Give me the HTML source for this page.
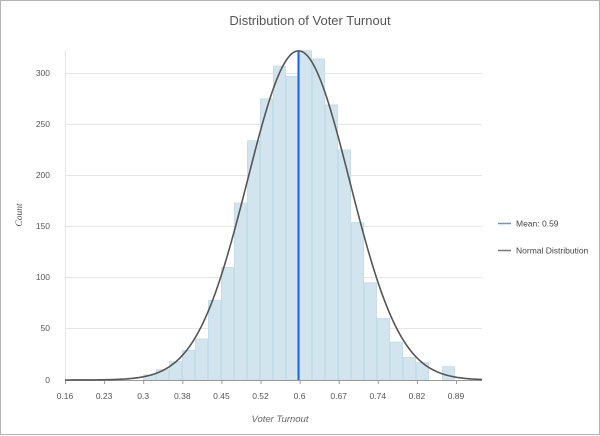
<!DOCTYPE html>
<html><head><meta charset="utf-8"><style>
html,body{margin:0;padding:0;background:#fff}
svg{display:block;font-family:"Liberation Sans",sans-serif}
</style></head><body>
<svg id="s" width="600" height="436" viewBox="0 0 600 436" xmlns="http://www.w3.org/2000/svg">
<rect x="0.5" y="0.5" width="599" height="434" fill="#fff" stroke="#b4b4b4"/>
<text x="310" y="25" text-anchor="middle" font-size="13" fill="#555">Distribution of Voter Turnout</text>
<g stroke="#e6e6e6" stroke-width="1">
<line x1="65" x2="482" y1="73.5" y2="73.5"/>
<line x1="65" x2="482" y1="124.5" y2="124.5"/>
<line x1="65" x2="482" y1="175.5" y2="175.5"/>
<line x1="65" x2="482" y1="226.5" y2="226.5"/>
<line x1="65" x2="482" y1="277.5" y2="277.5"/>
<line x1="65" x2="482" y1="328.5" y2="328.5"/>
</g>
<line x1="65.5" x2="65.5" y1="50" y2="380" stroke="#e6e6e6"/>
<g font-size="8.5" fill="#555" text-anchor="end">
<text x="50" y="76">300</text><text x="50" y="127">250</text><text x="50" y="178">200</text>
<text x="50" y="229">150</text><text x="50" y="280">100</text><text x="50" y="331">50</text><text x="50" y="383">0</text>
</g>
<text transform="translate(22,215) rotate(-90)" text-anchor="middle" font-size="9.5" font-style="italic" fill="#555" font-family="Liberation Serif,serif">Count</text>
<g id="bars" fill="#d2e5ef" stroke="#c4dde9" stroke-width="1"></g>
<line x1="65" x2="482" y1="380.5" y2="380.5" stroke="#999"/>
<g id="ticks" stroke="#999"></g>
<g id="tl" font-size="8.5" fill="#555" text-anchor="middle"></g>
<text x="280" y="422" text-anchor="middle" font-size="9.5" font-style="italic" fill="#666">Voter Turnout</text>
<path id="curve" fill="none" stroke="#555" stroke-width="1.6"/>
<line x1="298.5" x2="298.5" y1="51" y2="380" stroke="#1466e0" stroke-width="2"/>
<line x1="498" x2="511" y1="223.5" y2="223.5" stroke="#5b93e8" stroke-width="1.5"/>
<text x="516" y="226.5" font-size="8.5" fill="#444">Mean: 0.59</text>
<line x1="498" x2="511" y1="250.5" y2="250.5" stroke="#777" stroke-width="1.5"/>
<text x="516" y="253.5" font-size="8.5" fill="#444">Normal Distribution</text>
</svg>
<script>
var NS="http://www.w3.org/2000/svg";
var counts=[5,10,18,29,40,78,110,173,234,275,307,297,322,314,269,225,154,95,60,37,22,17,0,13];
var b=document.getElementById("bars"),k=1.0222;
counts.forEach(function(c,i){if(!c)return;var r=document.createElementNS(NS,"rect");var x=143+i*13,h=c*k;
r.setAttribute("x",x+0.5);r.setAttribute("y",380-h);r.setAttribute("width",12);r.setAttribute("height",h);b.appendChild(r);});
var labs=["0.16","0.23","0.3","0.38","0.45","0.52","0.6","0.67","0.74","0.82","0.89"];
var t=document.getElementById("ticks"),tl=document.getElementById("tl");
labs.forEach(function(l,i){var x=65+i*39.1;var ln=document.createElementNS(NS,"line");
ln.setAttribute("x1",x+0.5);ln.setAttribute("x2",x+0.5);ln.setAttribute("y1",380);ln.setAttribute("y2",384);t.appendChild(ln);
var tx=document.createElementNS(NS,"text");tx.setAttribute("x",x);tx.setAttribute("y",399);tx.textContent=l;tl.appendChild(tx);});
var d="";for(var x=65;x<=482;x+=1){var y=380-322*k*Math.exp(-Math.pow(x-298.5,2)/(2*51*51));d+=(x==65?"M":"L")+x+","+y.toFixed(2);}
document.getElementById("curve").setAttribute("d",d);
</script>
</body></html>
